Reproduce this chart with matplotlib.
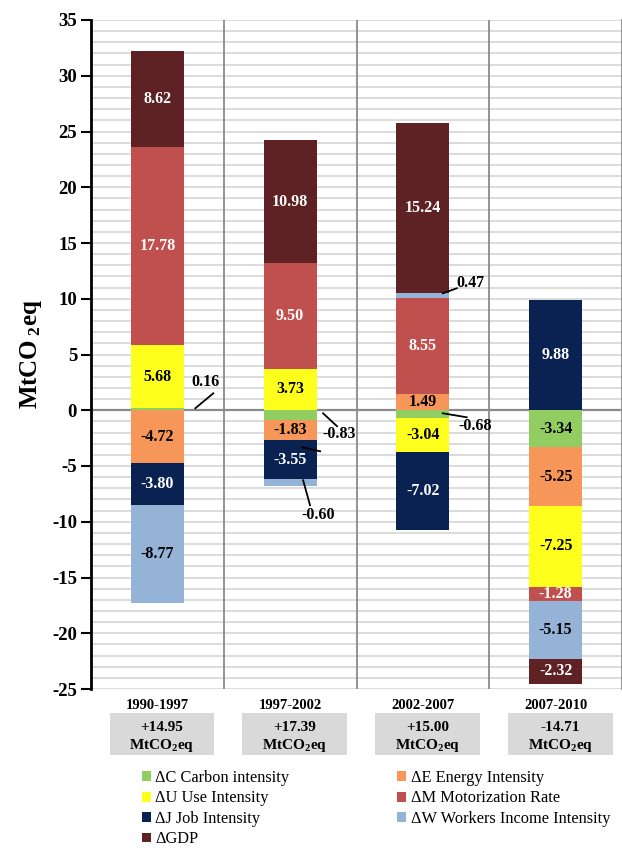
import numpy as np
import matplotlib.pyplot as plt
from matplotlib.patches import Rectangle

plt.rcParams['font.family'] = 'Liberation Serif'
plt.rcParams['mathtext.fontset'] = 'custom'
plt.rcParams['mathtext.rm'] = 'Liberation Serif:bold'
plt.rcParams['mathtext.bf'] = 'Liberation Serif:bold'
plt.rcParams['mathtext.default'] = 'bf'
plt.rcParams['axes.unicode_minus'] = False

# decomposition of the change in emissions, MtCO2eq per period
periods = ['1990-1997', '1997-2002', '2002-2007', '2007-2010']
totals = [14.95, 17.39, 15.00, -14.71]

carbon = [0.16, -0.83, -0.68, -3.34]
energy = [-4.72, -1.83, 1.49, -5.25]
use = [5.68, 3.73, -3.04, -7.25]
motor = [17.78, 9.50, 8.55, -1.28]
job = [-3.80, -3.55, -7.02, 9.88]
workers = [-8.77, -0.60, 0.47, -5.15]
gdp = [8.62, 10.98, 15.24, -2.32]

series = [
    ('\u0394C Carbon intensity', carbon, '#92CD62', 'black'),
    ('\u0394E Energy Intensity', energy, '#F79659', 'black'),
    ('\u0394U Use Intensity', use, '#FFFF1E', 'black'),
    ('\u0394M Motorization Rate', motor, '#C0504D', 'white'),
    ('\u0394J Job Intensity', job, '#0A2252', 'white'),
    ('\u0394W Workers Income Intensity', workers, '#95B3D7', 'black'),
    ('\u0394GDP', gdp, '#5E2124', 'white'),
]

# small segments get their label outside with a leader line:
# (series index, period) -> (line x0, y0, x1, y1, label x, label y)
callouts = {
    (0, 0): (0.286, 0.18, 0.421, 1.52, 0.36, 2.55),
    (0, 1): (1.248, -0.27, 1.353, -1.43, 1.37, -2.1),
    (5, 1): (1.098, -6.28, 1.15, -8.52, 1.21, -9.35),
    (5, 2): (2.15, 10.49, 2.256, 10.94, 2.36, 11.4),
    (0, 2): (2.15, -0.27, 2.33, -0.63, 2.39, -1.45),
}

fig = plt.figure(figsize=(6.22, 8.49), dpi=100)
ax = fig.add_axes([91 / 622, 160 / 849, 531 / 622, 669 / 849])

x = np.arange(len(periods))
width = 0.4
pos_base = np.zeros(len(periods))
neg_base = np.zeros(len(periods))
handles = []
for k, (name, vals, color, txtcol) in enumerate(series):
    vals = np.array(vals)
    bottoms = np.where(vals >= 0, pos_base, neg_base)
    bars = ax.bar(x, vals, width, bottom=bottoms, color=color, label=name,
                  zorder=3, linewidth=0)
    handles.append(bars)
    for i, v in enumerate(vals):
        if (k, i) in callouts:
            x0, y0, x1, y1, tx, ty = callouts[(k, i)]
            ax.plot([x0, x1], [y0, y1], color='black', lw=1.3, zorder=4)
            ax.text(tx, ty, '%.2f' % v, ha='center', va='center',
                    fontsize=11.5, fontweight='bold', color='black', zorder=5)
        else:
            ax.text(i, bottoms[i] + v / 2, '%.2f' % v, ha='center', va='center',
                    fontsize=11.5, fontweight='bold', color=txtcol, zorder=5)
    pos_base += np.clip(vals, 0, None)
    neg_base += np.clip(vals, None, 0)

# stray leader line next to the job intensity bar of 1997-2002
ax.plot([1.09, 1.226], [-3.32, -3.68], color='black', lw=1.3, zorder=4)

ax.set_xlim(-0.5, 3.5)
ax.set_ylim(-25, 35)
ax.set_yticks(np.arange(-25, 36, 5))
ax.set_yticks(np.arange(-25, 36, 1), minor=True)
ax.set_yticklabels([str(t) for t in range(-25, 36, 5)])
ax.set_xticks([])
ax.tick_params(axis='y', which='major', direction='out', length=7, width=1.5,
               labelsize=13.5, pad=3)
ax.tick_params(axis='y', which='minor', length=0)
for lab in ax.get_yticklabels():
    lab.set_fontweight('bold')
ax.grid(axis='y', which='both', color='#D9D9D9', lw=1.3, zorder=0)
ax.axhline(0, color='#8A8A8A', lw=1.6, zorder=2)
for sep in [0.5, 1.5, 2.5]:
    ax.axvline(sep, color='#8A8A8A', lw=1.3, zorder=2)

ax.spines['top'].set_visible(False)
ax.spines['bottom'].set_visible(False)
ax.spines['right'].set_color('#8A8A8A')
ax.spines['right'].set_linewidth(1.3)
ax.spines['left'].set_linewidth(2)
ax.spines['left'].set_zorder(4)

ax.set_ylabel('MtCO$\\,_2$eq', fontsize=18, fontweight='bold', labelpad=6)

# period names and total change boxes under the axis
for i, p in enumerate(periods):
    ax.text(i, -26.45, p, ha='center', va='center', fontsize=10.5,
            fontweight='bold', clip_on=False)
    bx = i + 0.035
    ax.add_patch(Rectangle((bx - 0.395, -30.95), 0.79, 3.8, facecolor='#D9D9D9',
                           edgecolor='none', clip_on=False))
    ax.text(bx, -28.45, '%+.2f' % totals[i], ha='center', va='center',
            fontsize=11, fontweight='bold', clip_on=False)
    ax.text(bx, -30.05, 'MtCO$_2$eq', ha='center', va='center',
            fontsize=11, fontweight='bold', clip_on=False)

order = [0, 2, 4, 6, 1, 3, 5]
fig.legend([handles[j] for j in order], [series[j][0] for j in order],
           loc='upper left', bbox_to_anchor=(142 / 622, 1 - 770 / 849),
           ncol=2, frameon=False, fontsize=11.8, handlelength=0.55,
           handleheight=0.55, handletextpad=0.25, columnspacing=6.6,
           labelspacing=0.27, borderpad=0, borderaxespad=0)

fig.savefig('out.png', dpi=100)
